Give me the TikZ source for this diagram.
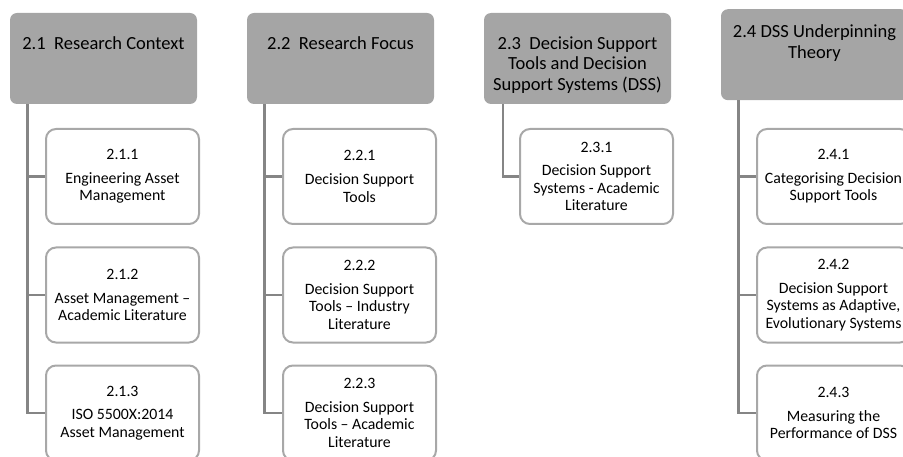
\documentclass[tikz,border=0pt]{standalone}
\usepackage{fontspec}
\setmainfont{Carlito}[Ligatures={NoCommon,NoRare,NoContextual}]
\definecolor{headgray}{HTML}{A5A5A5}
\definecolor{boxline}{HTML}{A8A8A8}
\definecolor{linkgray}{HTML}{858585}
\tikzset{
  headbox/.style={fill=headgray, draw=none, rounded corners=7pt,
    minimum width=187pt, minimum height=91pt, inner sep=0pt},
  headtext/.style={font=\fontsize{18.5}{20.5}\selectfont, align=center,
    anchor=north, inner sep=0pt, text=black},
  subbox/.style={fill=white, draw=boxline, line width=2pt, rounded corners=10pt,
    minimum width=153pt, minimum height=95pt, align=center, inner sep=0pt,
    font=\fontsize{15.8}{17.6}\selectfont, text=black},
  link/.style={draw=linkgray, line width=2.5pt}
}
\begin{document}
\begin{tikzpicture}[x=1pt,y=-1pt]
\clip (0,0) rectangle (903,457);

% chapter sections
\node[headbox] (h1) at (103.5,58.5) {};
\node[headtext] (t1) at ([yshift=-23.5pt]h1.north) {2.1\ \ Research Context};
\node[headbox] (h2) at (340.5,58.5) {};
\node[headtext] (t2) at ([yshift=-23.5pt]h2.north) {2.2\ \ Research Focus};
\node[headbox] (h3) at (577.5,58.5) {};
\node[headtext] (t3) at ([yshift=-23.5pt]h3.north) {2.3\ \ Decision Support\\Tools and Decision\\Support Systems (DSS)};
\node[headbox] (h4) at (814.5,54.7) {};
\node[headtext] (t4) at ([yshift=-15.5pt]h4.north) {2.4 DSS Underpinning\\Theory};

% subsections
\node[subbox] (c11) at (122.5,176.5) {2.1.1\\[6pt]Engineering Asset\\Management};
\node[subbox] (c12) at (122.5,295) {2.1.2\\[6pt]Asset Management --\\Academic Literature};
\node[subbox] (c13) at (122.5,413) {2.1.3\\[6pt]ISO 5500X:2014\\Asset Management};

\node[subbox] (c21) at (359.5,176.5) {2.2.1\\[6pt]Decision Support\\Tools};
\node[subbox] (c22) at (359.5,295) {2.2.2\\[6pt]Decision Support\\Tools -- Industry\\Literature};
\node[subbox] (c23) at (359.5,413) {2.2.3\\[6pt]Decision Support\\Tools -- Academic\\Literature};

\node[subbox] (c31) at (596.5,176.5) {2.3.1\\[6pt]Decision Support\\Systems - Academic\\Literature};

\node[subbox] (c41) at (833.5,176.5) {2.4.1\\[6pt]Categorising Decision\\Support Tools};
\node[subbox] (c42) at (833.5,295) {2.4.2\\[6pt]Decision Support\\Systems as Adapt\kern0pt ive,\\Evolutionary Systems};
\node[subbox] (c43) at (833.5,413) {2.4.3\\[6pt]Measuring the\\Performance of DSS};

% connectors from each section down to its subsections
\foreach \h/\c/\dx in {h1/c11/17.5, h1/c12/17.5, h1/c13/17.5,
                       h2/c21/17.5, h2/c22/17.5, h2/c23/17.5,
                       h3/c31/19,
                       h4/c41/17.5, h4/c42/17.5, h4/c43/17.5}
  \draw[link] ([xshift=\dx pt]\h.south west) |- (\c.west);
\end{tikzpicture}
\end{document}
